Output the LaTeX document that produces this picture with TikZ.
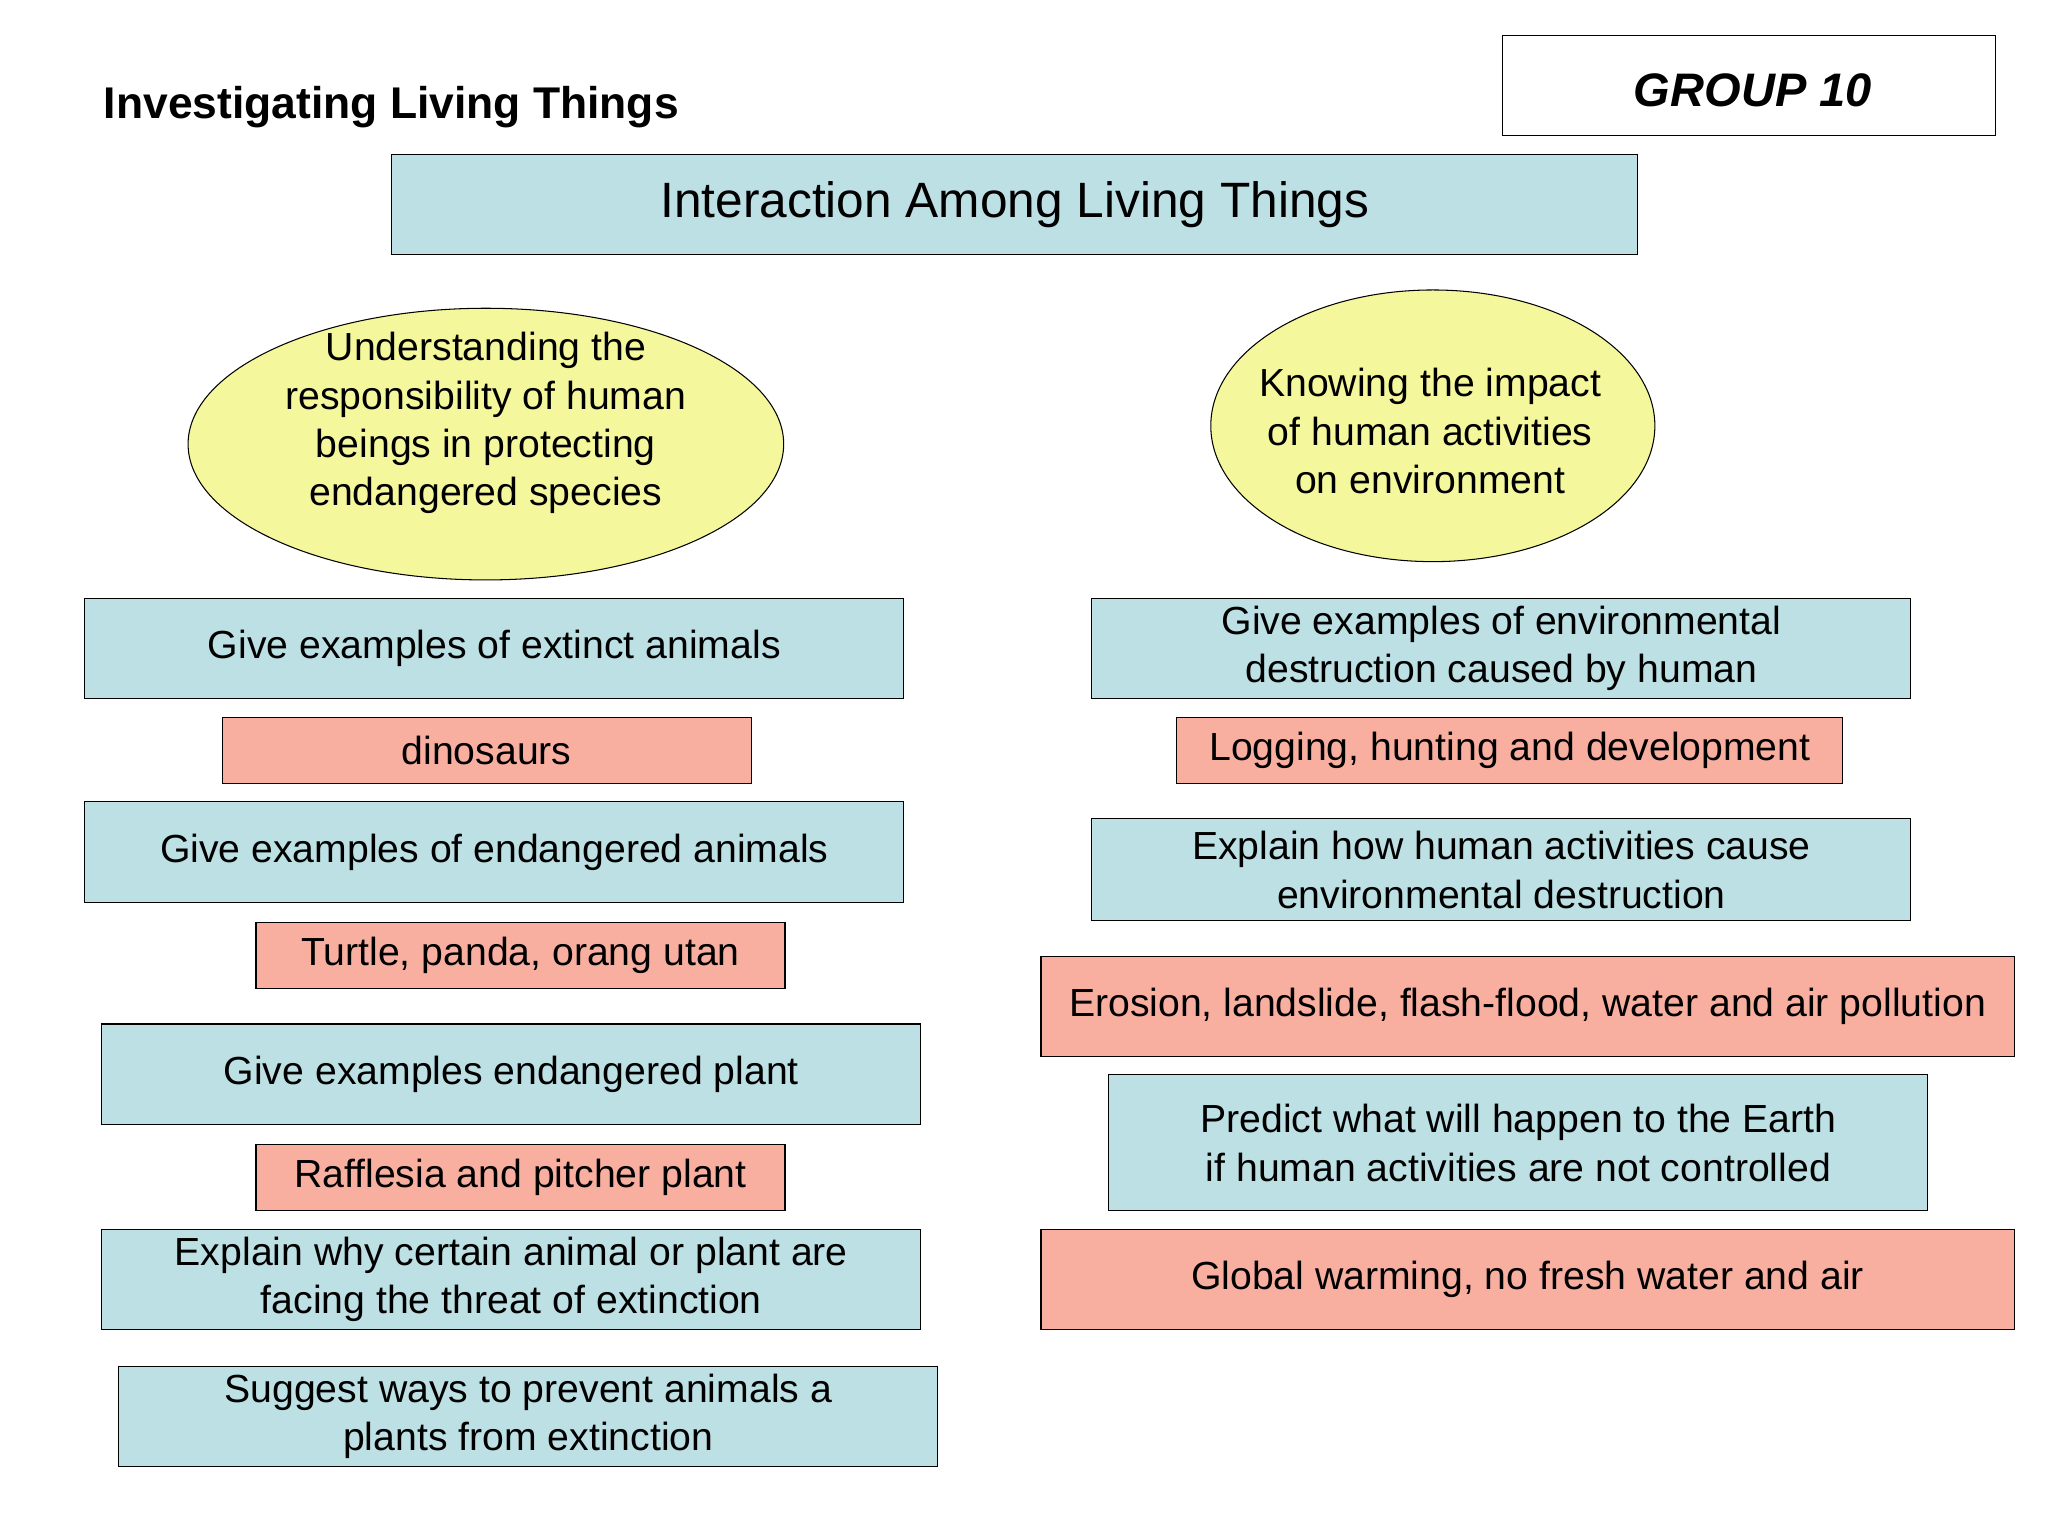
\documentclass[tikz,border=0pt]{standalone}
\usepackage{fontspec}
\setmainfont{Liberation Sans}
\usetikzlibrary{shapes.geometric}
\definecolor{bbox}{HTML}{BCE0E4}
\definecolor{rbox}{HTML}{F8AFA0}
\definecolor{yel}{HTML}{F5F79C}
\tikzset{
 bx/.style={draw,thick,fill=bbox,inner sep=0pt,align=center,font=\fontsize{30}{37}\selectfont},
 rx/.style={bx,fill=rbox},
 el/.style={draw,thick,fill=yel},
 eltext/.style={align=center,font=\fontsize{30}{37}\selectfont}
}
\newcommand{\bxat}[6]{\node[#1,minimum width={#4-#2},minimum height={#5-#3}] (#6) at ({(#2+#4)/2},{(#3+#5)/2})}
\begin{document}
\begin{tikzpicture}[x=1pt,y=-1pt]
\useasboundingbox[fill=white] (0,0) rectangle (1568,1176);
\node[anchor=west,font=\fontsize{34}{40}\selectfont\bfseries] (title) at (76,82) {Investigating Living Things};
\node[draw,thick,minimum width=378,minimum height=77] (grp) at (1339,65.5) {};
\node[font=\fontsize{36}{42}\selectfont\bfseries\itshape] at (1342,69) {GROUP 10};
\node[draw,thick,fill=bbox,minimum width=954,minimum height=77,font=\fontsize{38}{44}\selectfont] (main) at (777,156.5) {\raisebox{-4pt}{Interaction Among Living Things}};
\draw[el] (372,340) ellipse [x radius=228, y radius=104];
\node[eltext] (e1) at (372,324) {Understanding the\\responsibility of human\\beings in protecting\\endangered species};
\draw[el] (1097,326) ellipse [x radius=170, y radius=104];
\node[eltext] (e2) at (1095,330) {Knowing the impact\\of human activities\\on environment};
\bxat{bx}{65}{458}{692}{535}{l1} {Give examples of extinct animals};
\bxat{rx}{170}{549}{575}{600}{l2} {dinosaurs};
\bxat{bx}{65}{614}{692}{691}{l3} {Give examples of endangered animals};
\bxat{rx}{196}{706}{601}{757}{l4} {Turtle, panda, orang utan};
\bxat{bx}{78}{784}{705}{861}{l5} {Give examples endangered plant};
\bxat{rx}{196}{876}{601}{927}{l6} {Rafflesia and pitcher plant};
\bxat{bx}{78}{941}{705}{1018}{l7} {Explain why certain animal or plant are\\facing the threat of extinction};
\bxat{bx}{91}{1046}{718}{1123}{l8} {Suggest ways to prevent animals a\\plants from extinction};
\bxat{bx}{836}{458}{1463}{535}{r1} {Give examples of environmental\\destruction caused by human};
\bxat{rx}{901}{549}{1411}{600}{r2} {Logging, hunting and development};
\bxat{bx}{836}{627}{1463}{705}{r3} {Explain how human activities cause\\environmental destruction};
\bxat{rx}{797}{732}{1542}{809}{r4} {Erosion, landslide, flash-flood, water and air pollution};
\bxat{bx}{849}{823}{1476}{927}{r5} {Predict what will happen to the Earth\\if human activities are not controlled};
\bxat{rx}{797}{941}{1542}{1018}{r6} {Global warming, no fresh water and air};
\end{tikzpicture}
\end{document}
